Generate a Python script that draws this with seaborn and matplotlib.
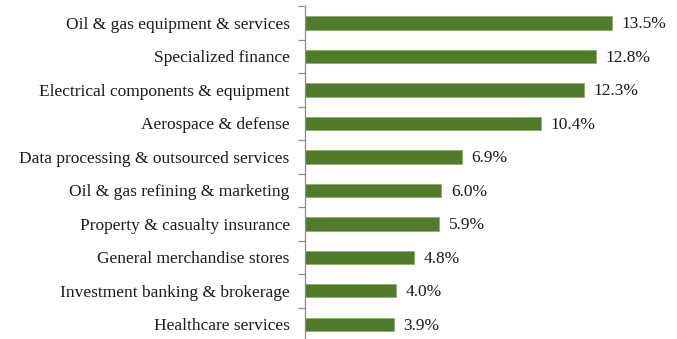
import matplotlib
matplotlib.use("Agg")
import matplotlib.pyplot as plt
import seaborn as sns
import pandas as pd

categories = [
    "Oil & gas equipment & services",
    "Specialized finance",
    "Electrical components & equipment",
    "Aerospace & defense",
    "Data processing & outsourced services",
    "Oil & gas refining & marketing",
    "Property & casualty insurance",
    "General merchandise stores",
    "Investment banking & brokerage",
    "Healthcare services",
]
values = [13.5, 12.8, 12.3, 10.4, 6.9, 6.0, 5.9, 4.8, 4.0, 3.9]
value_labels = ["13.5%", "12.8%", "12.3%", "10.4%", "6.9%", "6.0%", "5.9%", "4.8%", "4.0%", "3.9%"]

df = pd.DataFrame({"category": categories, "value": values})

sns.set_style("white")
plt.rcParams["font.family"] = ["Liberation Serif", "DejaVu Serif"]

fig = plt.figure(figsize=(6.77, 3.39), dpi=100)
ax = fig.add_axes([0.4505, -0.006, 0.54, 0.988])

sns.barplot(data=df, y="category", x="value", orient="h", color="#4f7b2b",
            saturation=1, width=0.4, edgecolor="#8fb06a", linewidth=0.6, ax=ax)

ax.set_xlim(0, 16.1)
ax.set_ylim(len(categories) - 0.5, -0.5)
ax.set_xlabel("")
ax.set_ylabel("")
ax.set_xticks([])

for s in ["top", "right", "bottom"]:
    ax.spines[s].set_visible(False)
ax.spines["left"].set_color("#8c8c8c")
ax.spines["left"].set_linewidth(0.9)

ax.tick_params(axis="y", which="major", left=False, length=0, pad=11, labelsize=12.5, labelcolor="#1a1a1a")
ax.set_yticks([i - 0.5 for i in range(len(categories) + 1)], minor=True)
ax.tick_params(axis="y", which="minor", left=True, length=5, color="#8c8c8c", width=0.9)

for i, (v, lab) in enumerate(zip(values, value_labels)):
    ax.text(v + 0.42, i + 0.04, lab, va="center", ha="left", fontsize=12.5, color="#1a1a1a")

fig.savefig("out.png", dpi=100)
